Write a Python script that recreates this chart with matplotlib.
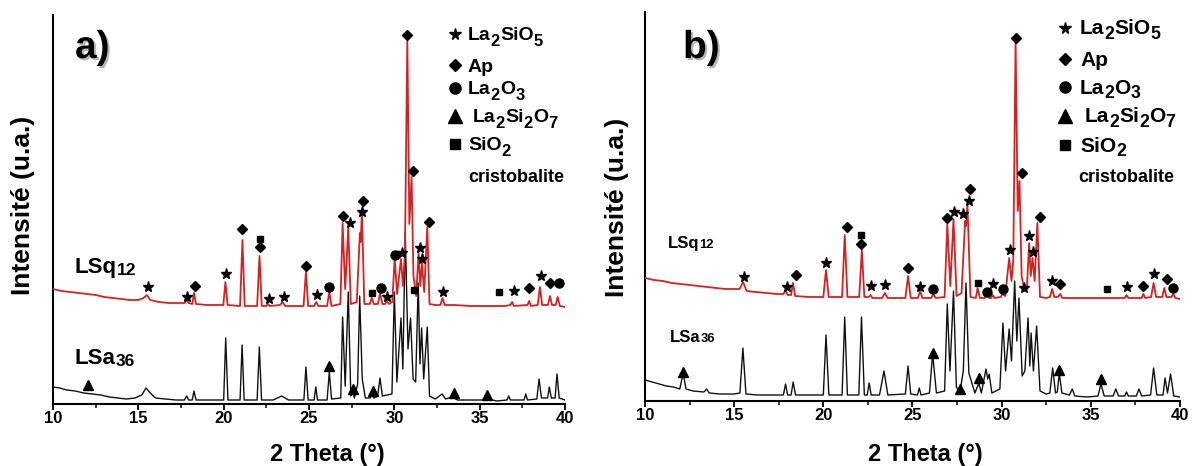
import matplotlib.pyplot as plt
import matplotlib.transforms as mtransforms
import matplotlib.patheffects as pe
from matplotlib.ticker import MultipleLocator

plt.rcParams['font.family'] = ['Liberation Sans', 'DejaVu Sans']
plt.rcParams['font.weight'] = 'bold'

## ---- panel a) : traces (2 theta in deg, intensity in a.u.) ----
a_black_x = [10.0, 10.4, 10.8, 11.3, 11.8, 12.3, 12.8, 13.3, 13.8, 14.3, 14.8, 15.2, 15.45, 15.7, 16.0,
             16.6, 17.2, 17.7, 17.83, 17.95, 18.16, 18.26, 18.38, 19.3, 20.0, 20.12, 20.25, 20.96, 21.08,
             21.2, 21.96, 22.09, 22.22, 22.9, 23.4, 23.8, 24.7, 24.82, 24.95, 25.3, 25.4, 25.5, 26.06,
             26.19, 26.32, 26.86, 26.97, 27.12, 27.3, 27.45, 27.56, 27.66, 27.85, 27.97, 28.12, 28.3,
             28.58, 28.68, 28.8, 29.02, 29.16, 29.3, 29.86, 30.0, 30.15, 30.39, 30.5, 30.64, 30.8, 30.95,
             31.1, 31.25, 31.4, 31.5, 31.6, 31.72, 31.93, 32.06, 32.4, 32.8, 33.0, 33.4, 33.7, 34.5, 35.3,
             35.5, 36.0, 36.6, 36.7, 36.8, 37.6, 37.7, 37.8, 38.35, 38.48, 38.62, 38.98, 39.08, 39.2,
             39.42, 39.53, 39.66, 40.0]
a_black_y = [17, 16, 14, 13, 11, 10, 9, 7, 6, 5, 6, 9, 16, 11, 6,
             5, 4, 4, 8, 4, 4, 13, 4, 4, 4, 66, 4, 4, 59,
             4, 4, 57, 4, 4, 8, 4, 4, 37, 4, 4, 17, 4, 4,
             32, 5, 6, 87, 18, 112, 8, 12, 6, 20, 108, 25, 6,
             6, 11, 6, 8, 26, 8, 10, 112, 22, 86, 35, 172, 55, 86,
             25, 22, 121, 40, 76, 25, 77, 8, 5, 10, 5, 7, 4, 4, 4,
             5, 3, 4, 8, 4, 4, 10, 4, 5, 25, 6, 6, 17, 6,
             6, 30, 6, 4]

a_red_x = [10.0, 10.5, 11.0, 11.5, 12.0, 12.5, 13.0, 13.5, 14.0, 14.5, 15.0, 15.3, 15.5, 15.7, 16.2,
           16.8, 17.4, 17.72, 17.83, 17.95, 18.16, 18.26, 18.38, 19.0, 19.98, 20.1, 20.23, 20.96, 21.1,
           21.23, 21.96, 22.1, 22.23, 22.5, 22.6, 22.7, 23.3, 23.45, 23.6, 24.68, 24.82, 24.95, 25.3,
           25.42, 25.55, 26.06, 26.19, 26.32, 26.84, 26.97, 27.12, 27.3, 27.45, 27.8, 27.98, 28.03,
           28.1, 28.24, 28.56, 28.68, 28.8, 29.04, 29.16, 29.3, 29.46, 29.56, 29.68, 29.88, 30.02,
           30.16, 30.39, 30.5, 30.62, 30.76, 30.88, 31.01, 31.12, 31.28, 31.42, 31.52, 31.62, 31.75,
           31.93, 32.06, 32.4, 32.7, 32.82, 32.95, 33.5, 34.5, 35.5, 36.5, 36.8, 36.9, 37.0, 37.8,
           37.9, 38.0, 38.4, 38.53, 38.66, 39.0, 39.12, 39.24, 39.45, 39.57, 39.7, 40.0]
a_red_y = [115, 113, 112, 111, 110, 109, 107, 106, 105, 104, 104, 106, 109, 104, 102,
           101, 101, 101, 104, 101, 100, 111, 100, 99, 99, 122, 99, 98, 164,
           98, 98, 148, 98, 98, 100, 98, 99, 102, 98, 98, 132, 98, 98,
           102, 98, 98, 112, 98, 100, 181, 115, 176, 100, 102, 171, 162,
           193, 100, 100, 106, 100, 100, 111, 100, 100, 103, 100, 102, 146,
           110, 145, 118, 150, 364, 180, 227, 128, 108, 151, 118, 141, 112,
           177, 100, 99, 99, 106, 99, 99, 98, 98, 98, 99, 102, 98, 99,
           103, 98, 99, 117, 99, 99, 108, 99, 99, 107, 98, 97]

# phase markers above the peaks (2 theta, height)
a_star_x = [15.55, 17.87, 20.12, 22.65, 23.53, 25.45, 27.38, 28.12, 29.59, 30.46, 31.5, 31.6, 32.87, 37.03, 38.6]
a_star_y = [117, 107, 130, 105, 107, 109, 181, 192, 107, 151, 156, 145, 112, 113, 128]
a_diam_x = [18.3, 21.1, 22.1, 24.82, 26.97, 28.15, 30.76, 31.1, 32.05, 37.9, 39.12]
a_diam_y = [118, 175, 157, 138, 188, 203, 369, 233, 182, 116, 121]
a_circ_x = [26.17, 29.2, 30.02, 39.62]
a_circ_y = [117, 116, 149, 121]
a_sq_x = [22.1, 28.67, 31.17, 36.15]
a_sq_y = [165, 111, 114, 112]
a_tri_x = [12.07, 26.19, 27.56, 28.73, 33.49, 35.44]
a_tri_y = [19, 38, 15, 13, 11, 9]

## ---- panel b) ----
b_black_x = [10.0, 10.4, 10.8, 11.2, 11.6, 11.95, 12.14, 12.3, 12.7, 13.3, 13.46, 13.6, 14.2, 15.0, 15.32,
             15.49, 15.66, 16.3, 17.0, 17.76, 17.88, 18.0, 18.19, 18.31, 18.44, 19.4, 20.0, 20.15, 20.31,
             21.05, 21.2, 21.35, 21.99, 22.14, 22.3, 22.46, 22.57, 22.68, 23.15, 23.4, 23.62, 24.6, 24.75,
             24.9, 25.28, 25.38, 25.48, 25.95, 26.13, 26.34, 26.8, 26.95, 27.1, 27.3, 27.46, 27.65, 27.85,
             28.0, 28.16, 28.5, 28.72, 28.86, 29.12, 29.22, 29.3, 29.45, 29.9, 30.07, 30.22, 30.42, 30.55,
             30.73, 30.85, 30.97, 31.15, 31.3, 31.48, 31.58, 31.65, 31.78, 31.96, 32.15, 32.5, 32.7, 32.86,
             33.02, 33.12, 33.23, 33.38, 33.8, 33.96, 34.1, 34.8, 35.4, 35.57, 35.75, 36.25, 36.4, 36.55,
             36.9, 37.0, 37.1, 37.55, 37.7, 37.85, 38.35, 38.52, 38.7, 39.05, 39.16, 39.3, 39.47, 39.65,
             40.0]
b_black_y = [21, 19, 17, 15, 14, 12, 28, 12, 10, 9, 12, 8, 7, 7, 8,
             53, 7, 6, 6, 6, 17, 6, 6, 19, 6, 6, 6, 66, 6,
             6, 84, 6, 6, 84, 6, 6, 18, 6, 6, 30, 6, 7, 35,
             7, 6, 13, 6, 8, 47, 8, 10, 97, 30, 110, 14, 8, 30,
             118, 28, 8, 18, 8, 32, 22, 27, 8, 12, 78, 30, 72, 40,
             120, 60, 103, 25, 30, 83, 35, 68, 30, 75, 10, 7, 8, 33,
             8, 9, 28, 8, 6, 12, 5, 4, 5, 17, 5, 5, 12, 5,
             5, 9, 5, 5, 12, 5, 6, 33, 6, 6, 23, 8, 27, 5,
             4]

b_red_x = [10.0, 10.5, 11.0, 11.5, 12.0, 12.5, 13.0, 13.5, 14.0, 14.5, 15.0, 15.3, 15.5, 15.7, 16.2,
           16.8, 17.4, 17.77, 17.88, 18.0, 18.19, 18.3, 18.42, 19.2, 20.0, 20.15, 20.3, 21.05, 21.2,
           21.35, 22.01, 22.16, 22.3, 22.55, 22.65, 22.75, 23.3, 23.45, 23.6, 24.6, 24.75, 24.9, 25.3,
           25.43, 25.55, 26.05, 26.17, 26.3, 26.8, 26.95, 27.12, 27.3, 27.47, 27.75, 27.95, 28.0, 28.08,
           28.25, 28.55, 28.65, 28.78, 29.05, 29.16, 29.3, 29.42, 29.5, 29.6, 29.95, 30.05, 30.2, 30.42,
           30.55, 30.65, 30.78, 30.9, 31.0, 31.12, 31.28, 31.42, 31.54, 31.63, 31.73, 31.85, 32.0, 32.15,
           32.5, 32.7, 32.83, 32.95, 33.15, 33.28, 33.4, 34.5, 35.5, 36.5, 36.9, 37.0, 37.1, 37.85,
           37.94, 38.05, 38.38, 38.52, 38.66, 39.0, 39.12, 39.24, 39.52, 39.62, 39.74, 40.0]
b_red_y = [123, 121, 120, 118, 117, 116, 115, 114, 113, 112, 112, 112, 119, 110, 109,
           108, 107, 107, 111, 106, 106, 118, 105, 104, 104, 131, 104, 104, 166,
           104, 104, 151, 104, 104, 106, 103, 103, 108, 103, 103, 125, 103, 103,
           110, 103, 103, 107, 103, 104, 177, 115, 182, 105, 108, 180, 175, 197,
           104, 103, 113, 103, 103, 108, 103, 103, 106, 103, 104, 107, 105, 143,
           120, 140, 360, 190, 220, 125, 110, 115, 158, 125, 143, 120, 178, 104,
           103, 104, 112, 104, 104, 107, 103, 103, 103, 103, 103, 106, 103, 103,
           107, 103, 104, 118, 104, 104, 113, 104, 104, 107, 103, 102]

b_star_x = [15.55, 17.97, 20.15, 22.67, 23.45, 25.43, 27.3, 27.84, 28.18, 29.5, 30.44, 31.28, 31.54, 31.77,
            32.8, 37.0, 38.52]
b_star_y = [124, 114, 138, 115, 116, 114, 189, 187, 200, 117, 151, 113, 165, 149, 120, 114, 127]
b_diam_x = [18.44, 21.3, 22.14, 24.75, 26.91, 28.21, 30.78, 31.16, 32.15, 33.28, 37.94, 39.25]
b_diam_y = [126, 174, 157, 133, 183, 212, 363, 228, 184, 117, 115, 122]
b_circ_x = [26.17, 29.16, 30.05, 39.62]
b_circ_y = [112, 109, 112, 113]
b_sq_x = [22.14, 28.7, 35.88]
b_sq_y = [166, 118, 112]
b_tri_x = [12.14, 26.13, 27.65, 28.72, 33.23, 35.57]
b_tri_y = [29, 48, 12, 23, 31, 22]

ticks = [10, 15, 20, 25, 30, 35, 40]
# legend names as (text, subscript?) pieces
legend_names = [[('La', 0), ('2', 1), ('SiO', 0), ('5', 1)],
                [('Ap', 0)],
                [('La', 0), ('2', 1), ('O', 0), ('3', 1)],
                [('La', 0), ('2', 1), ('Si', 0), ('2', 1), ('O', 0), ('7', 1)],
                [('SiO', 0), ('2', 1)]]

W, H = 1194, 466
fig = plt.figure(figsize=(W / 100, H / 100), dpi=100)
# pixel coordinates of the picture, origin top left
pix = mtransforms.Affine2D().scale(1 / W, -1 / H).translate(0, 1) + fig.transFigure

RED = '#d42222'
INK = '#111111'


def rich(x, y, parts, fs, sub_scale=0.85, sub_drop=3.0):
    # chain of text pieces, subscripts a bit smaller and lowered
    first = fig.text(x, y, parts[0][0], transform=pix, fontsize=fs, fontweight='bold', va='baseline')
    prev = first
    for txt, sub in parts[1:]:
        prev = fig.axes[0].annotate(txt, xy=(1, 0), xycoords=(prev, first),
                                    xytext=(0, -sub_drop if sub else 0), textcoords='offset points',
                                    fontsize=fs * (sub_scale if sub else 1), fontweight='bold',
                                    va='bottom', ha='left', annotation_clip=False)
    return first


def panel(rect, bx, by, rx, ry, stars, diams, circs, sqs, tris):
    ax = fig.add_axes(rect)
    ax.plot(bx, by, color=INK, lw=1.0, zorder=2)
    ax.plot(rx, ry, color=RED, lw=1.3, zorder=3)
    kw = dict(ls='none', color='black', zorder=5)
    ax.plot(*stars, marker='*', ms=8, **kw)
    ax.plot(*diams, marker='D', ms=5, **kw)
    ax.plot(*circs, marker='o', ms=6.5, **kw)
    ax.plot(*sqs, marker='s', ms=4.8, **kw)
    ax.plot(*tris, marker='^', ms=6.5, **kw)
    ax.set_xlim(10, 40)
    ax.set_ylim(0, 389)
    ax.set_xticks(ticks)
    ax.xaxis.set_minor_locator(MultipleLocator(2.5))
    ax.set_yticks([])
    for s in ['top', 'right']:
        ax.spines[s].set_visible(False)
    for s in ['left', 'bottom']:
        ax.spines[s].set_linewidth(1.5)
    ax.tick_params(axis='x', which='major', length=4, width=1.3, labelsize=12, pad=1)
    ax.tick_params(axis='x', which='minor', length=3, width=1.1)
    for lab in ax.get_xticklabels():
        lab.set_fontweight('bold')
    ax.set_facecolor('none')
    return ax


ax1 = panel([53 / W, 1 - 404 / H, 512 / W, 389 / H], a_black_x, a_black_y, a_red_x, a_red_y,
            (a_star_x, a_star_y), (a_diam_x, a_diam_y), (a_circ_x, a_circ_y), (a_sq_x, a_sq_y),
            (a_tri_x, a_tri_y))
ax2 = panel([645 / W, 1 - 401 / H, 535 / W, 389 / H], b_black_x, b_black_y, b_red_x, b_red_y,
            (b_star_x, b_star_y), (b_diam_x, b_diam_y), (b_circ_x, b_circ_y), (b_sq_x, b_sq_y),
            (b_tri_x, b_tri_y))

## axis titles
for xc, yc in [(23, 205), (617, 207)]:
    fig.text(xc, yc, 'Intensité (u.a.)', transform=pix, rotation=90, ha='center', va='center',
             fontsize=19, fontweight='bold')
for xc in [327, 925]:
    fig.text(xc, 455, '2 Theta (°)', transform=pix, ha='center', va='center',
             fontsize=17, fontweight='bold')

## panel letters
shadow = [pe.withSimplePatchShadow(offset=(1.5, -1.5), shadow_rgbFace='#888888', alpha=0.6)]
for xc, lab in [(75, 'a)'), (683, 'b)')]:
    fig.text(xc, 58, lab, transform=pix, fontsize=28, fontweight='bold', path_effects=shadow)

## sample names, the number written smaller on the line
for xc, yb, name, num, fs in [(75, 273, 'LSq', '12', 16), (75, 364, 'LSa', '36', 16),
                              (668, 248, 'LSq', '12', 12), (670, 342, 'LSa', '36', 12)]:
    rich(xc, yb, [(name, 0), (num, 0)], fs)
    fig.texts[-1].set_fontsize(fs)
    fig.axes[0].texts[-1].set_fontsize(fs * 0.78)

## phase legend
leg_marks = [('*', 8.5), ('D', 6), ('o', 8), ('^', 10), ('s', 7.5)]
for mx, tx, rows, crist, fs in [(455, 468, [34, 65, 88, 116, 144], (468, 177), 14),
                                 (1065, 1080, [28, 59, 87, 116, 145], (1078, 178), 15)]:
    for (m, ms), name, ry in zip(leg_marks, legend_names, rows):
        fig.lines.append(plt.Line2D([mx], [ry], transform=pix, marker=m, ms=ms, color='black', ls='none'))
        dx = 5 if m == '^' else 0
        rich(tx + dx, ry + 6.5, name, fs)
    fig.text(crist[0], crist[1], 'cristobalite', transform=pix, fontsize=13, fontweight='bold',
             va='center')

fig.savefig('out.png', dpi=100)
